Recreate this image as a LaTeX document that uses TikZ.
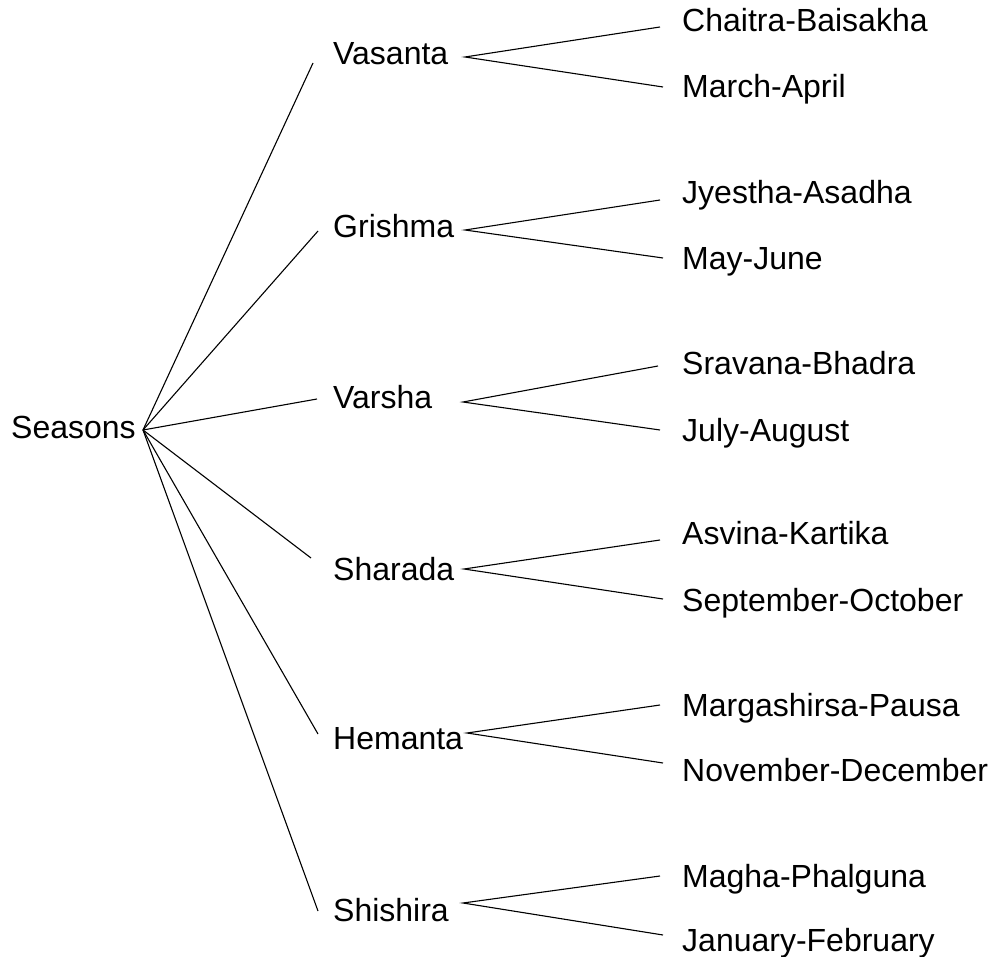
\documentclass[tikz,border=0pt]{standalone}
\usepackage{fontspec}
\setmainfont{Liberation Sans}
\begin{document}
\begin{tikzpicture}[x=1pt,y=-1pt,
  lbl/.style={anchor=base west,inner sep=0pt,font=\fontsize{32}{36}\selectfont},
  conn/.style={line width=1.1pt,black}]
\useasboundingbox (0,0) rectangle (998,957);
% nodes
\node[lbl] (seasons) at (11,438) {Seasons};
\node[lbl] (vasanta) at (333,65) {Vasanta};
\node[lbl] (grishma) at (333,238) {Grishma};
\node[lbl] (varsha) at (333,408) {Varsha};
\node[lbl] (sharada) at (333,580) {Sharada};
\node[lbl] (hemanta) at (333,749) {Hemanta};
\node[lbl] (shishira) at (333,921) {Shishira};
\node[lbl] (l1a) at (682,32) {Chaitra-Baisakha};
\node[lbl] (l1b) at (682,98) {March-April};
\node[lbl] (l2a) at (682,204) {Jyestha-Asadha};
\node[lbl] (l2b) at (682,270) {May-June};
\node[lbl] (l3a) at (682,374) {Sravana-Bhadra};
\node[lbl] (l3b) at (682,441) {July-August};
\node[lbl] (l4a) at (682,544) {Asvina-Kartika};
\node[lbl] (l4b) at (682,611) {September-October};
\node[lbl] (l5a) at (682,716) {Margashirsa-Pausa};
\node[lbl] (l5b) at (682,781) {November-December};
\node[lbl] (l6a) at (682,887) {Magha-Phalguna};
\node[lbl] (l6b) at (682,951) {January-February};
% connector points
\coordinate (r) at (143,430);
\coordinate (v1) at (313,63);
\coordinate (v2) at (318,231);
\coordinate (v3) at (317,399);
\coordinate (v4) at (311,558);
\coordinate (v5) at (318,734);
\coordinate (v6) at (318,911);
\coordinate (a1) at (465,57);
\coordinate (a2) at (465,230);
\coordinate (a3) at (463,402);
\coordinate (a4) at (464,569);
\coordinate (a5) at (467,733);
\coordinate (a6) at (463,903);
\coordinate (e1a) at (660,27);  \coordinate (e1b) at (663,87);
\coordinate (e2a) at (660,200); \coordinate (e2b) at (663,258);
\coordinate (e3a) at (658,366); \coordinate (e3b) at (660,430);
\coordinate (e4a) at (660,540); \coordinate (e4b) at (663,599);
\coordinate (e5a) at (660,705); \coordinate (e5b) at (663,763);
\coordinate (e6a) at (660,876); \coordinate (e6b) at (663,935);
% connectors
\foreach \i in {1,...,6}{
  \draw[conn] (r) -- (v\i);
  \draw[conn] (e\i a) -- (a\i) -- (e\i b);
}
\end{tikzpicture}
\end{document}
